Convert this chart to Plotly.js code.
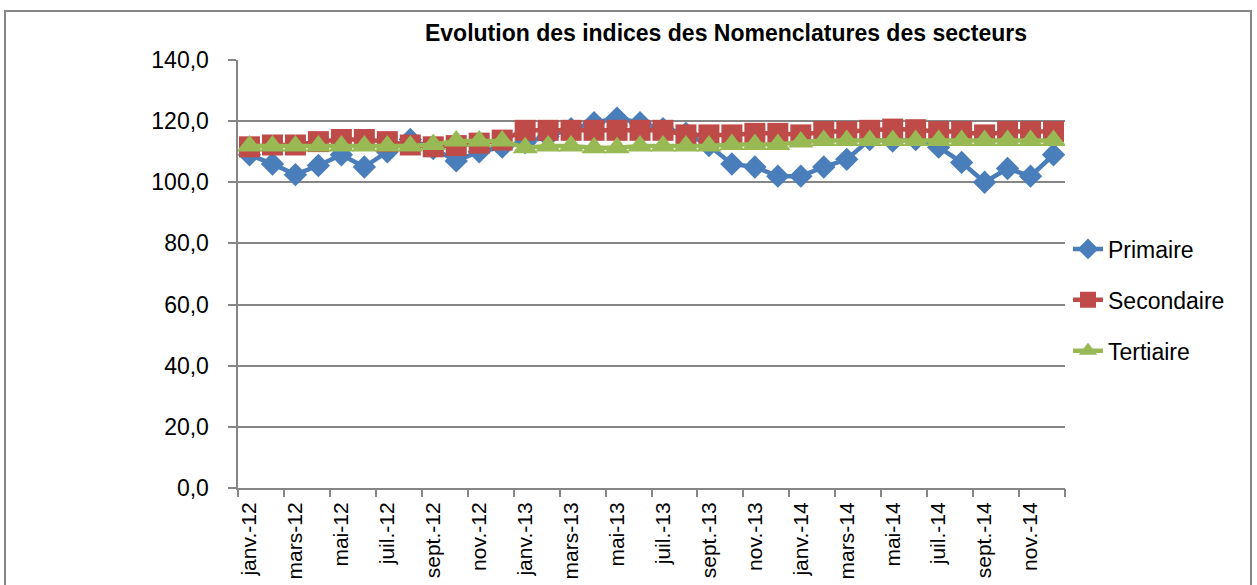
<!DOCTYPE html>
<html>
<head>
<meta charset="utf-8">
<script src="https://cdn.plot.ly/plotly-3.0.1.min.js"></script>
<style>
html,body{margin:0;padding:0;background:#fff;}
#chart{width:1257px;height:585px;}
</style>
</head>
<body>
<div id="chart"></div>
<script>
const months = [
  "janv.-12","févr.-12","mars-12","avr.-12","mai-12","juin-12","juil.-12","août-12","sept.-12","oct.-12","nov.-12","déc.-12",
  "janv.-13","févr.-13","mars-13","avr.-13","mai-13","juin-13","juil.-13","août-13","sept.-13","oct.-13","nov.-13","déc.-13",
  "janv.-14","févr.-14","mars-14","avr.-14","mai-14","juin-14","juil.-14","août-14","sept.-14","oct.-14","nov.-14","déc.-14"
];
const primaire = [
  109, 106, 102.5, 105.5, 109, 105, 110, 114, 111, 107, 110, 111.5,
  113, 115, 117.5, 119.5, 121, 119.5, 117.5, 116, 112, 106, 105, 102,
  102, 105, 107.5, 114, 113.5, 114, 111.5, 106.5, 100, 104.5, 102, 109
];
const secondaire = [
  111.6, 112.2, 112.2, 113.3, 114, 114, 113.3, 112.2, 111.6, 112, 112.8, 113.8,
  117, 117, 117, 117, 117, 117, 117, 115.5, 115.5, 115.5, 116, 116,
  115.5, 116.6, 116.6, 117, 117.4, 117.2, 116.6, 116.6, 115.5, 116.6, 116.6, 116.6
];
const tertiaire = [
  111.9, 111.9, 111.9, 111.9, 111.9, 111.9, 111.9, 111.9, 112.4, 113.5, 113.5, 113.5,
  111.3, 111.9, 111.9, 111.3, 111.3, 111.9, 111.9, 111.9, 111.9, 112.4, 112.4, 112.4,
  113.2, 113.7, 113.7, 113.7, 113.7, 113.7, 113.7, 113.7, 113.7, 113.7, 113.7, 113.7
];
const tickLabels = months.filter((m, i) => i % 2 === 0);
const yTicks = [0, 20, 40, 60, 80, 100, 120, 140];
// category boundaries every two months, for the tick marks
const boundaries = [];
for (let i = 0; i <= months.length; i += 2) boundaries.push(i - 0.5);

const FONT = "'Liberation Sans', Arial, sans-serif";
const GRAY = "#868686";

const traces = [
  {name: "Primaire", x: months, y: primaire, type: "scatter", mode: "lines+markers",
   legendgroup: "a",
   line: {color: "#4A7EBB", width: 4.5},
   marker: {symbol: "diamond", size: 18, color: "#4A7EBB"}},
  {name: "Secondaire", x: months, y: secondaire, type: "scatter", mode: "lines+markers",
   legendgroup: "b",
   line: {color: "#BE4B48", width: 4.5},
   marker: {symbol: "square", size: 21, color: "#BE4B48"}},
  {name: "Tertiaire", x: months, y: tertiaire, type: "scatter", mode: "lines+markers",
   legendgroup: "c",
   line: {color: "#98B954", width: 4.5},
   marker: {symbol: "triangle-up", size: 22, color: "#98B954"}},
  {x: [], y: [], xaxis: "x2", type: "scatter", mode: "markers", showlegend: false, hoverinfo: "skip"}
];

const L = 238, R = 1065, T = 60, B = 488;
const pw = R - L, ph = B - T;
const px = v => (v - L) / pw;
const py = v => (B - v) / ph;

const layout = {
  width: 1257, height: 585,
  margin: {l: L, r: 1257 - R, t: T, b: 585 - B, pad: 0},
  paper_bgcolor: "#fff", plot_bgcolor: "#fff",
  separators: ", ",
  font: {family: FONT, color: "#000", size: 23},
  showlegend: true,
  title: {
    text: "<b>Evolution des indices des Nomenclatures des secteurs</b>",
    font: {family: FONT, size: 23, color: "#000"},
    xref: "paper", x: px(726), xanchor: "center",
    yref: "container", y: 1 - 33 / 585, yanchor: "middle"
  },
  xaxis: {
    type: "category", range: [-0.5, months.length - 0.5],
    tickmode: "array", tickvals: tickLabels, ticktext: tickLabels,
    tickangle: -90, ticks: "", ticklabelstandoff: 4,
    tickfont: {family: FONT, size: 21, color: "#000"},
    showgrid: false, showline: true, linecolor: GRAY, linewidth: 2,
    zeroline: false, automargin: false, fixedrange: true
  },
  xaxis2: {
    overlaying: "x", type: "linear", range: [-0.5, months.length - 0.5],
    tickmode: "array", tickvals: boundaries, showticklabels: false,
    ticks: "outside", ticklen: 8, tickwidth: 2, tickcolor: GRAY,
    showgrid: false, showline: false, zeroline: false, anchor: "y", side: "bottom"
  },
  yaxis: {
    range: [0, 140], tickmode: "array", tickvals: yTicks,
    tickformat: ".1f", ticks: "outside", ticklen: 8, tickwidth: 2, tickcolor: GRAY,
    ticklabelstandoff: 14,
    tickfont: {family: FONT, size: 23, color: "#000"},
    showgrid: true, gridcolor: GRAY, gridwidth: 2,
    showline: true, linecolor: GRAY, linewidth: 2.5,
    zeroline: false, automargin: false, fixedrange: true
  },
  legend: {
    x: px(1068), xanchor: "left", y: py(300), yanchor: "middle",
    font: {family: FONT, size: 23, color: "#000"},
    bgcolor: "rgba(0,0,0,0)", borderwidth: 0,
    traceorder: "grouped", tracegroupgap: 18
  },
  shapes: [{
    type: "rect", xref: "paper", yref: "paper",
    x0: px(5), x1: px(1251), y0: py(600), y1: py(11),
    line: {color: GRAY, width: 2}, fillcolor: "rgba(0,0,0,0)", layer: "below"
  }]
};

Plotly.newPlot("chart", traces, layout, {displayModeBar: false, staticPlot: true});
</script>
</body>
</html>
